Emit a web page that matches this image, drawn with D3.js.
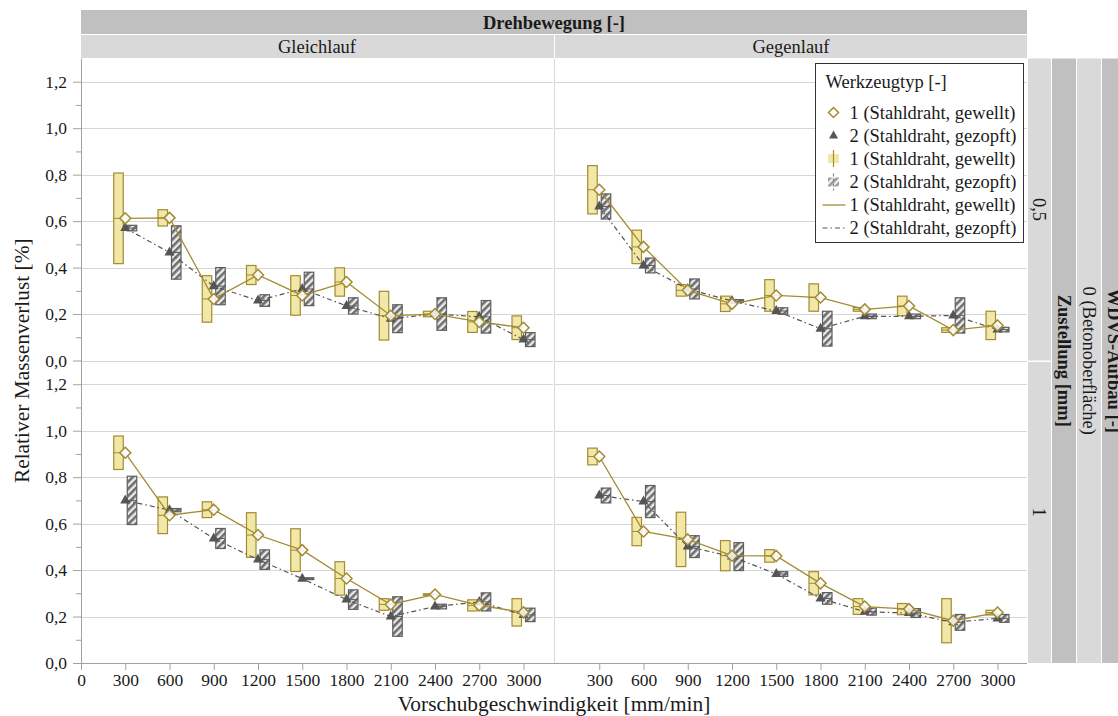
<!DOCTYPE html>
<html><head><meta charset="utf-8">
<script src="https://cdn.jsdelivr.net/npm/d3@7"></script>
<style>
body{margin:0;background:#fff;}
svg text{font-family:"Liberation Serif","Times New Roman","DejaVu Serif",serif;fill:#1a1a1a;}
</style>
</head><body>
<svg id="chart" width="1118" height="716" font-family="Liberation Serif, Times New Roman, serif"></svg>
<script>
// ---------------- data ----------------
const xValues = [300, 600, 900, 1200, 1500, 1800, 2100, 2400, 2700, 3000];
const xTicksLeft = [0, 300, 600, 900, 1200, 1500, 1800, 2100, 2400, 2700, 3000];
const xTicksRight = [300, 600, 900, 1200, 1500, 1800, 2100, 2400, 2700, 3000];
const yTicks = [0, 0.2, 0.4, 0.6, 0.8, 1.0, 1.2];
const yMinorTicks = [0.1, 0.3, 0.5, 0.7, 0.9, 1.1];
const colNames = ["Gleichlauf", "Gegenlauf"];
const rowNames = ["0,5", "1"];
const seriesNames = ["1 (Stahldraht, gewellt)", "2 (Stahldraht, gezopft)"];

// Gleichlauf, Zustellung 0,5
const gleich05_t1Mean = [0.612, 0.614, 0.265, 0.368, 0.280, 0.338, 0.193, 0.200, 0.166, 0.141];
const gleich05_t1Sd   = [0.195, 0.035, 0.100, 0.041, 0.085, 0.061, 0.105, 0.012, 0.045, 0.051];
const gleich05_t2Mean = [0.570, 0.465, 0.320, 0.258, 0.308, 0.235, 0.180, 0.200, 0.188, 0.090];
const gleich05_t2Sd   = [0.012, 0.115, 0.080, 0.025, 0.072, 0.035, 0.060, 0.070, 0.070, 0.030];
// Gegenlauf, Zustellung 0,5
const gegen05_t1Mean = [0.735, 0.489, 0.302, 0.244, 0.280, 0.271, 0.220, 0.235, 0.131, 0.151];
const gegen05_t1Sd   = [0.104, 0.072, 0.025, 0.033, 0.068, 0.059, 0.008, 0.042, 0.010, 0.061];
const gegen05_t2Mean = [0.663, 0.409, 0.308, 0.256, 0.213, 0.137, 0.190, 0.190, 0.194, 0.133];
const gegen05_t2Sd   = [0.054, 0.032, 0.043, 0.006, 0.014, 0.075, 0.010, 0.010, 0.076, 0.010];
// Gleichlauf, Zustellung 1
const gleich1_t1Mean = [0.905, 0.636, 0.660, 0.551, 0.486, 0.364, 0.252, 0.295, 0.248, 0.218];
const gleich1_t1Sd   = [0.072, 0.079, 0.034, 0.096, 0.092, 0.072, 0.025, 0.003, 0.024, 0.059];
const gleich1_t2Mean = [0.700, 0.658, 0.536, 0.445, 0.363, 0.273, 0.200, 0.243, 0.263, 0.207];
const gleich1_t2Sd   = [0.104, 0.007, 0.043, 0.042, 0.004, 0.042, 0.085, 0.010, 0.039, 0.029];
// Gegenlauf, Zustellung 1
const gegen1_t1Mean = [0.889, 0.566, 0.532, 0.462, 0.461, 0.343, 0.243, 0.232, 0.182, 0.217];
const gegen1_t1Sd   = [0.036, 0.061, 0.117, 0.065, 0.027, 0.050, 0.034, 0.024, 0.095, 0.010];
const gegen1_t2Mean = [0.721, 0.695, 0.501, 0.458, 0.383, 0.278, 0.221, 0.215, 0.175, 0.192];
const gegen1_t2Sd   = [0.032, 0.069, 0.047, 0.060, 0.010, 0.025, 0.015, 0.019, 0.034, 0.017];

const panels = [
  {col:0, row:0, t1:[gleich05_t1Mean, gleich05_t1Sd], t2:[gleich05_t2Mean, gleich05_t2Sd]},
  {col:1, row:0, t1:[gegen05_t1Mean, gegen05_t1Sd], t2:[gegen05_t2Mean, gegen05_t2Sd]},
  {col:0, row:1, t1:[gleich1_t1Mean, gleich1_t1Sd], t2:[gleich1_t2Mean, gleich1_t2Sd]},
  {col:1, row:1, t1:[gegen1_t1Mean, gegen1_t1Sd], t2:[gegen1_t2Mean, gegen1_t2Sd]}
];

// ---------------- layout ----------------
const FONT = "Liberation Serif, Times New Roman, serif";
const colX = [81, 555], colW = 472;
const rowY = [58.5, 361], rowH = 302;
const gold = "#a38b33", goldFill = "#f1e7a6", greyDark = "#555555";
const stripFont = 18.5, tickFont = 17.5, titleFont = 21.4;

const locale = d3.formatLocale({decimal: ",", thousands: ".", grouping: [3], currency: ["", "€"]});
const fmtY = locale.format(".1f");

const svg = d3.select("#chart");
const defs = svg.append("defs");
const pat = defs.append("pattern").attr("id", "hatch").attr("patternUnits", "userSpaceOnUse")
  .attr("width", 5).attr("height", 5).attr("patternTransform", "rotate(45)");
pat.append("rect").attr("width", 5).attr("height", 5).attr("fill", "#ececec");
pat.append("rect").attr("width", 2.6).attr("height", 5).attr("fill", "#6e6e6e");

function txt(sel) { return sel.append("text").attr("font-family", FONT); }

// strips top
svg.append("rect").attr("x", 81).attr("y", 10).attr("width", 946).attr("height", 24).attr("fill", "#c0c0c0");
txt(svg).attr("x", 554).attr("y", 28.5).attr("text-anchor", "middle")
  .attr("font-size", stripFont).attr("font-weight", "bold").text("Drehbewegung [-]");
colNames.forEach((n, i) => {
  svg.append("rect").attr("x", colX[i]).attr("y", 35).attr("width", i === 0 ? 473 : colW).attr("height", 23).attr("fill", "#d9d9d9");
  txt(svg).attr("x", colX[i] + colW / 2).attr("y", 52.5).attr("text-anchor", "middle")
    .attr("font-size", stripFont).text(n);
});

// strips right
rowNames.forEach((n, i) => {
  svg.append("rect").attr("x", 1028).attr("y", rowY[i] + (i ? 1 : 0)).attr("width", 23).attr("height", rowH - (i ? 1 : 0)).attr("fill", "#d9d9d9");
  const cy = rowY[i] + rowH / 2;
  txt(svg).attr("transform", `translate(1039.5,${cy}) rotate(90)`).attr("text-anchor", "middle")
    .attr("dy", "0.35em").attr("font-size", stripFont).text(n);
});
const fullMid = (rowY[0] + rowY[1] + rowH) / 2;
svg.append("rect").attr("x", 1052).attr("y", 58.5).attr("width", 24).attr("height", 604.5).attr("fill", "#c0c0c0");
txt(svg).attr("transform", `translate(1064,${fullMid}) rotate(90)`).attr("text-anchor", "middle")
  .attr("dy", "0.35em").attr("font-size", stripFont).attr("font-weight", "bold").text("Zustellung [mm]");
svg.append("rect").attr("x", 1077).attr("y", 58.5).attr("width", 24).attr("height", 604.5).attr("fill", "#d9d9d9");
txt(svg).attr("transform", `translate(1089,${fullMid}) rotate(90)`).attr("text-anchor", "middle")
  .attr("dy", "0.35em").attr("font-size", stripFont).text("0 (Betonoberfläche)");
svg.append("rect").attr("x", 1102).attr("y", 58.5).attr("width", 20).attr("height", 604.5).attr("fill", "#c0c0c0");
txt(svg).attr("transform", `translate(1114,${fullMid}) rotate(90)`).attr("text-anchor", "middle")
  .attr("dy", "0.35em").attr("font-size", stripFont).attr("font-weight", "bold").text("WDVS-Aufbau [-]");

// vertical separator between columns
svg.append("line").attr("x1", 554.5).attr("x2", 554.5).attr("y1", 58.5).attr("y2", 663).attr("stroke", "#d9d9d9");

const diamondPath = "M0,-5.5L5.5,0L0,5.5L-5.5,0Z";
const trianglePath = "M0,-6L5,3L-5,3Z";

panels.forEach(p => {
  const x = d3.scaleLinear().domain([0, 3200]).range([colX[p.col], colX[p.col] + colW]);
  const y = d3.scaleLinear().domain([0, 1.3]).range([rowY[p.row] + rowH, rowY[p.row]]);
  const g = svg.append("g");
  // grid
  g.selectAll("line.grid").data(yTicks).join("line")
    .attr("x1", colX[p.col]).attr("x2", colX[p.col] + colW)
    .attr("y1", d => Math.round(y(d)) + 0.5).attr("y2", d => Math.round(y(d)) + 0.5)
    .attr("stroke", "#d6d6d6").attr("stroke-width", 1.2);

  const rows = xValues.map((xv, i) => ({x: xv, m1: p.t1[0][i], s1: p.t1[1][i], m2: p.t2[0][i], s2: p.t2[1][i]}));
  // bars type 1
  g.selectAll("rect.b1").data(rows).join("rect")
    .attr("x", d => x(d.x) - 11.5).attr("width", 9.5)
    .attr("y", d => y(d.m1 + d.s1)).attr("height", d => Math.max(1.5, y(d.m1 - d.s1) - y(d.m1 + d.s1)))
    .attr("fill", goldFill).attr("stroke", gold).attr("stroke-width", 1.2);
  g.selectAll("line.b1m").data(rows).join("line")
    .attr("x1", d => x(d.x) - 11.5).attr("x2", d => x(d.x) - 2)
    .attr("y1", d => y(d.m1)).attr("y2", d => y(d.m1)).attr("stroke", gold).attr("stroke-width", 1);
  // bars type 2
  g.selectAll("rect.b2").data(rows).join("rect")
    .attr("x", d => x(d.x) + 2).attr("width", 9.5)
    .attr("y", d => y(d.m2 + d.s2)).attr("height", d => Math.max(1.5, y(d.m2 - d.s2) - y(d.m2 + d.s2)))
    .attr("fill", "url(#hatch)").attr("stroke", "#5e5e5e").attr("stroke-width", 1.2);
  g.selectAll("line.b2m").data(rows).join("line")
    .attr("x1", d => x(d.x) + 2).attr("x2", d => x(d.x) + 11.5)
    .attr("y1", d => y(d.m2)).attr("y2", d => y(d.m2)).attr("stroke", "#5e5e5e").attr("stroke-width", 1);
  // lines
  g.append("path").datum(rows).attr("fill", "none").attr("stroke", greyDark).attr("stroke-width", 1.2)
    .attr("stroke-dasharray", "5,3,1.5,3")
    .attr("d", d3.line().x(d => x(d.x)).y(d => y(d.m2)));
  g.append("path").datum(rows).attr("fill", "none").attr("stroke", gold).attr("stroke-width", 1.3)
    .attr("d", d3.line().x(d => x(d.x)).y(d => y(d.m1)));
  // markers
  g.selectAll("path.tri").data(rows).join("path")
    .attr("transform", d => `translate(${x(d.x)},${y(d.m2)})`).attr("d", trianglePath).attr("fill", greyDark);
  g.selectAll("path.dia").data(rows).join("path")
    .attr("transform", d => `translate(${x(d.x)},${y(d.m1)})`).attr("d", diamondPath)
    .attr("fill", "#fff").attr("fill-opacity", 0.85).attr("stroke", gold).attr("stroke-width", 1.5);

  // y axis (only left column)
  if (p.col === 0) {
    const ax = svg.append("g").attr("transform", "translate(81,0)")
      .call(d3.axisLeft(y).tickValues(yTicks).tickFormat(fmtY).tickSize(8).tickPadding(6));
    ax.attr("font-family", FONT);
    ax.select(".domain").remove();
    ax.selectAll(".tick line").attr("stroke", "#a0a0a0");
    ax.selectAll(".tick text").attr("font-family", FONT).attr("font-size", tickFont).attr("fill", "#1a1a1a");
    const axm = svg.append("g").attr("transform", "translate(81,0)")
      .call(d3.axisLeft(y).tickValues(yMinorTicks).tickFormat("").tickSize(5));
    axm.select(".domain").remove();
    axm.selectAll(".tick line").attr("stroke", "#a0a0a0");
  }
  // x axis (bottom row)
  if (p.row === 1) {
    const ax = svg.append("g").attr("transform", "translate(0,663)")
      .call(d3.axisBottom(x).tickValues(p.col === 0 ? xTicksLeft : xTicksRight).tickFormat(d3.format("d")).tickSize(7).tickPadding(4));
    ax.attr("font-family", FONT);
    ax.select(".domain").remove();
    ax.selectAll(".tick line").attr("stroke", "#a0a0a0");
    ax.selectAll(".tick text").attr("font-family", FONT).attr("font-size", tickFont).attr("fill", "#1a1a1a");
  }
});

// axis lines
svg.append("line").attr("x1", 81.5).attr("x2", 81.5).attr("y1", 58.5).attr("y2", 663).attr("stroke", "#a0a0a0");
svg.append("line").attr("x1", 81).attr("x2", 1027).attr("y1", 663.5).attr("y2", 663.5).attr("stroke", "#a0a0a0");

// axis titles
txt(svg).attr("transform", `translate(29,${fullMid}) rotate(-90)`).attr("text-anchor", "middle")
  .attr("font-size", titleFont).text("Relativer Massenverlust [%]");
txt(svg).attr("x", 554).attr("y", 711).attr("text-anchor", "middle")
  .attr("font-size", titleFont).text("Vorschubgeschwindigkeit [mm/min]");

// legend
const lg = svg.append("g").attr("transform", "translate(815.5,63.5)");
lg.append("rect").attr("width", 208).attr("height", 179).attr("fill", "#fff").attr("stroke", "#333").attr("stroke-width", 1);
txt(lg).attr("x", 10).attr("y", 24.5).attr("font-size", stripFont).text("Werkzeugtyp [-]");
const legendY = [55, 78, 101, 124.5, 147.5, 170.5];
const labels = [seriesNames[0], seriesNames[1], seriesNames[0], seriesNames[1], seriesNames[0], seriesNames[1]];
labels.forEach((t, i) => {
  txt(lg).attr("x", 34).attr("y", legendY[i]).attr("font-size", stripFont).text(t);
});
const sx = 18;
const cyL = i => legendY[i] - 6;
lg.append("path").attr("transform", `translate(${sx},${cyL(0)})`).attr("d", "M0,-5L5,0L0,5L-5,0Z")
  .attr("fill", "#fff").attr("stroke", gold).attr("stroke-width", 1.5);
lg.append("path").attr("transform", `translate(${sx},${cyL(1)})`).attr("d", "M0,-5L4.5,3L-4.5,3Z").attr("fill", greyDark);
lg.append("rect").attr("x", sx - 5.5).attr("y", cyL(2) - 4.5).attr("width", 11).attr("height", 9).attr("fill", goldFill);
lg.append("line").attr("x1", sx).attr("x2", sx).attr("y1", cyL(2) - 8.5).attr("y2", cyL(2) + 8.5).attr("stroke", gold).attr("stroke-width", 1.2);
lg.append("rect").attr("x", sx - 5.5).attr("y", cyL(3) - 4.5).attr("width", 11).attr("height", 9).attr("fill", "url(#hatch)").attr("opacity", 0.7);
lg.append("line").attr("x1", sx).attr("x2", sx).attr("y1", cyL(3) - 8.5).attr("y2", cyL(3) + 8.5).attr("stroke", "#888").attr("stroke-width", 1.2).attr("stroke-dasharray", "3,2");
lg.append("line").attr("x1", 7).attr("x2", 30).attr("y1", cyL(4)).attr("y2", cyL(4)).attr("stroke", gold).attr("stroke-width", 1.3);
lg.append("line").attr("x1", 7).attr("x2", 30).attr("y1", cyL(5)).attr("y2", cyL(5)).attr("stroke", greyDark).attr("stroke-width", 1.2).attr("stroke-dasharray", "5,3,1.5,3");
</script>
</body></html>
